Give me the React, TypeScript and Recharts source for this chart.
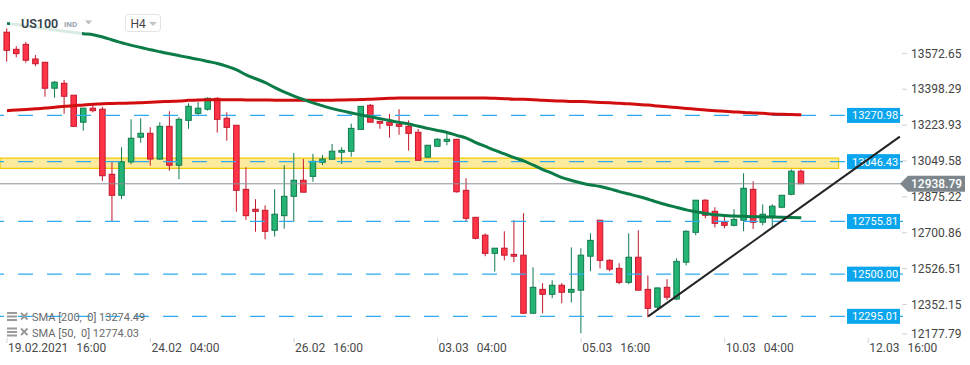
import { ComposedChart, Bar, Line, XAxis, YAxis, ReferenceLine, ReferenceArea } from "recharts";

// H4 candles, 19.02.2021 16:00 .. 11.03.2021
const OPEN = [
  13675, 13592, 13616, 13545, 13529, 13403, 13427, 13369, 13238, 13306,
  13301, 12985, 12883, 13045, 13165, 13184, 13059, 13218, 13029, 13247,
  13281, 13301, 13354, 13257, 13223, 12912, 12815, 12810, 12713, 12784,
  12878, 12956, 12975, 13043, 13058, 13092, 13097, 13203, 13320, 13242,
  13238, 13228, 13218, 13189, 13068, 13121, 13145, 13155, 12907, 12776,
  12689, 12601, 12626, 12596, 12592, 12310, 12426, 12402, 12446, 12412,
  12422, 12587, 12762, 12567, 12528, 12460, 12582, 12426, 12340, 12436,
  12379, 12558, 12703, 12859, 12805, 12752, 12737, 12762, 12912, 12752,
  12781, 12825, 12888, 13000,
];
const HIGH = [
  13694, 13607, 13628, 13564, 13529, 13438, 13443, 13370, 13306, 13322,
  13313, 13050, 13116, 13252, 13257, 13213, 13238, 13291, 13262, 13330,
  13336, 13359, 13359, 13286, 13223, 13019, 12864, 12834, 12912, 13029,
  13088, 13059, 13084, 13079, 13132, 13116, 13231, 13315, 13326, 13242,
  13278, 13301, 13247, 13205, 13126, 13160, 13184, 13155, 12966, 12776,
  12698, 12626, 12708, 12762, 12796, 12533, 12456, 12470, 12456, 12630,
  12626, 12698, 12762, 12572, 12553, 12698, 12713, 12494, 12436, 12475,
  12577, 12713, 12859, 12864, 12825, 12791, 12815, 12990, 12951, 12839,
  12839, 12883, 13009, 13009,
];
const LOW = [
  13532, 13553, 13527, 13510, 13362, 13357, 13279, 13215, 13197, 13286,
  12952, 12758, 12864, 13034, 13138, 13027, 13054, 13002, 12961, 13206,
  13273, 13294, 13187, 13148, 12803, 12763, 12706, 12669, 12682, 12721,
  12755, 12898, 12949, 13030, 13058, 13035, 13070, 13203, 13238, 13206,
  13163, 13177, 13100, 13053, 13068, 13121, 13126, 12896, 12757, 12669,
  12587, 12512, 12567, 12558, 12310, 12310, 12310, 12383, 12358, 12363,
  12213, 12514, 12528, 12514, 12451, 12451, 12422, 12290, 12329, 12374,
  12374, 12543, 12689, 12771, 12727, 12723, 12732, 12708, 12719, 12737,
  12729, 12820, 12883, 12939,
];
const CLOSE = [
  13587, 13571, 13539, 13522, 13403, 13432, 13364, 13218, 13306, 13294,
  12978, 12883, 13046, 13160, 13184, 13059, 13218, 13029, 13252, 13315,
  13306, 13354, 13252, 13213, 12907, 12784, 12805, 12708, 12791, 12878,
  12956, 12898, 13048, 13059, 13097, 13101, 13208, 13315, 13238, 13233,
  13223, 13218, 13184, 13053, 13126, 13155, 13155, 12900, 12771, 12674,
  12601, 12626, 12592, 12587, 12310, 12436, 12402, 12446, 12412, 12426,
  12592, 12664, 12567, 12524, 12460, 12582, 12422, 12334, 12433, 12388,
  12562, 12708, 12859, 12786, 12747, 12737, 12766, 12917, 12752, 12791,
  12830, 12883, 13000, 12939,
];
const SMA200 = [
  13294, 13297, 13300, 13303, 13307, 13310, 13315, 13318, 13322, 13325,
  13328, 13329, 13330, 13331, 13333, 13335, 13337, 13339, 13341, 13344,
  13346, 13347, 13347, 13347, 13347, 13346, 13346, 13346, 13345, 13345,
  13344, 13344, 13344, 13344, 13345, 13346, 13347, 13348, 13350, 13352,
  13354, 13356, 13356, 13356, 13356, 13356, 13356, 13356, 13356, 13356,
  13356, 13354, 13352, 13350, 13349, 13347, 13344, 13342, 13341, 13339,
  13338, 13336, 13334, 13332, 13330, 13327, 13324, 13321, 13317, 13313,
  13309, 13305, 13301, 13297, 13294, 13291, 13288, 13285, 13283, 13281,
  13278, 13276, 13275, 13274,
];
const SMA50 = [
  13718, 13712, 13705, 13699, 13693, 13686, 13680, 13674, 13668, 13663,
  13652, 13637, 13624, 13611, 13601, 13590, 13580, 13570, 13561, 13552,
  13543, 13533, 13523, 13509, 13492, 13468, 13449, 13430, 13406, 13384,
  13365, 13348, 13332, 13317, 13304, 13293, 13283, 13273, 13264, 13255,
  13246, 13237, 13229, 13218, 13208, 13198, 13188, 13174, 13161, 13139,
  13120, 13101, 13084, 13066, 13050, 13029, 13008, 12989, 12969, 12955,
  12943, 12933, 12926, 12914, 12901, 12889, 12877, 12864, 12849, 12836,
  12824, 12812, 12803, 12795, 12788, 12785, 12782, 12781, 12779, 12778,
  12777, 12776, 12775, 12774,
];

const LEVELS = [13270.98, 13046.43, 12755.81, 12500.0, 12295.01];
const ZONE = [13014, 13063];
const LAST_PRICE = 12938.79;
const TREND = [
  { x: 67, y: 12295 },
  { x: 93.3, y: 13168 },
];

const Y_TICKS = [13572.65, 13398.29, 13223.93, 13049.58, 12875.22, 12700.86, 12526.51, 12352.15, 12177.79];
const X_TICKS = [0, 15, 30, 45, 60, 75, 90];
const X_DATES = ["19.02.2021", "24.02", "26.02", "03.03", "05.03", "10.03", "12.03"];
const X_TIMES = ["16:00", "04:00", "16:00", "04:00", "16:00", "04:00", "16:00"];
const SMA_LABELS = ["SMA [200,  0] 13274.49", "SMA [50,  0] 12774.03"];

const data = OPEN.map((o, i) => ({
  i,
  open: o,
  high: HIGH[i],
  low: LOW[i],
  close: CLOSE[i],
  sma200: SMA200[i],
  sma50: SMA50[i],
}));

const BLUE = "#2fabef";

function Candle(props: any) {
  const { x, y, width, height, payload } = props;
  if (!payload) return null;
  const { open, close, high, low } = payload;
  const top = Math.min(y, y + height);
  const h = Math.abs(height);
  const k = h / (high - low || 1);
  const cx = x + width / 2;
  const up = close >= open;
  const bTop = top + (high - Math.max(open, close)) * k;
  const bH = Math.max(1.5, Math.abs(open - close) * k);
  const fill = up ? "#24b575" : "#ff3447";
  const stroke = up ? "#107a4c" : "#c2172c";
  return (
    <g>
      <line x1={cx} x2={cx} y1={top} y2={top + h} stroke={stroke} strokeWidth={1} />
      <rect x={cx - 2.75} y={bTop} width={5.5} height={bH} fill={fill} stroke={stroke} strokeWidth={1} />
    </g>
  );
}

function XTick(props: any) {
  const { x, index } = props;
  return (
    <g>
      <line x1={x} x2={x} y1={338} y2={343} stroke="#d6d6d6" />
      <text x={x + 1} y={351.5} fontSize={12} fill="#4a4a4a">
        <tspan>{X_DATES[index]}</tspan>
        <tspan dx={8}>{X_TIMES[index]}</tspan>
      </text>
    </g>
  );
}

function YTick(props: any) {
  const { y, payload } = props;
  const ty = Math.min(y, 334);
  return (
    <g>
      <line x1={902} x2={907} y1={ty} y2={ty} stroke="#d0d0d0" />
      <text x={911} y={ty + 4.3} fontSize={12} fill="#444">
        {payload.value.toFixed(2)}
      </text>
    </g>
  );
}

const levelTag = (value: number) => (props: any) => {
  const vb = props.viewBox;
  if (!vb) return null;
  const right = vb.x + vb.width;
  return (
    <g>
      <rect x={right - 56} y={vb.y - 7.5} width={53} height={15} fill="#0aa5ec" />
      <text x={right - 51} y={vb.y + 4} fontSize={11} fill="#fff">
        {value.toFixed(2)}
      </text>
    </g>
  );
};

const priceFlag = (props: any) => {
  const vb = props.viewBox;
  if (!vb) return null;
  const r = vb.x + vb.width;
  const y = vb.y;
  return (
    <g>
      <polygon
        points={`${r - 3},${y} ${r + 5},${y - 8} ${r + 62},${y - 8} ${r + 62},${y + 8} ${r + 5},${y + 8}`}
        fill="#7c868c"
      />
      <text x={r + 8} y={y + 4.5} fontSize={12} fontWeight={500} fill="#fff">
        {LAST_PRICE.toFixed(2)}
      </text>
    </g>
  );
};

export default function App() {
  return (
    <div style={{ position: "absolute", left: 0, top: 0, width: 970, height: 365, fontFamily: "Roboto", background: "#fff" }}>
      <ComposedChart width={970} height={365} data={data} margin={{ top: 0, right: 0, bottom: 0, left: 0 }}>
        <XAxis
          dataKey="i"
          type="number"
          domain={[-0.73, 93.63]}
          ticks={X_TICKS}
          interval={0}
          tick={<XTick />}
          axisLine={false}
          tickLine={false}
          height={22}
          allowDataOverflow
        />
        <YAxis
          orientation="right"
          type="number"
          domain={[12165.5, 13831.5]}
          ticks={Y_TICKS}
          interval={0}
          tick={<YTick />}
          axisLine={false}
          tickLine={false}
          width={67}
          allowDataOverflow
        />
        {LEVELS.map((lv) => (
          <ReferenceLine
            key={lv}
            y={lv}
            stroke={BLUE}
            strokeWidth={1.2}
            strokeDasharray="15 14"
            label={levelTag(lv)}
          />
        ))}
        <ReferenceLine y={LAST_PRICE} stroke="#8b9298" strokeWidth={1} label={priceFlag} />
        <Bar
          dataKey={(d: any) => [d.low, d.high]}
          barSize={7}
          shape={(p: any) => <Candle {...p} />}
          isAnimationActive={false}
        />
        <ReferenceArea
          x1={-0.73}
          x2={86.9}
          y1={ZONE[0]}
          y2={ZONE[1]}
          fill="#f8d22a"
          fillOpacity={0.45}
          stroke="#f4c800"
          strokeWidth={1.2}
          ifOverflow="visible"
        />
        <Line
          type="monotone"
          dataKey="sma200"
          stroke="#d20d0d"
          strokeWidth={3}
          strokeLinecap="butt"
          dot={false}
          activeDot={false}
          isAnimationActive={false}
        />
        <Line
          type="monotone"
          dataKey="sma50"
          stroke="#0b7c47"
          strokeWidth={3}
          strokeLinecap="butt"
          dot={false}
          activeDot={false}
          isAnimationActive={false}
        />
        <ReferenceLine segment={TREND} stroke="#232323" strokeWidth={2} ifOverflow="visible" />
      </ComposedChart>

      <svg
        width={970}
        height={365}
        style={{ position: "absolute", left: 0, top: 0, pointerEvents: "none", fontFamily: "Roboto" }}
      >
        <rect x={10} y={14} width={72} height={22} fill="#fff" opacity={0.85} />
        <text x={21} y={27.5} fontSize={12.5} fontWeight={600} fill="#36404a">US100</text>
        <text x={64} y={27.3} fontSize={8} fontWeight={700} fill="#9aa4ad">IND</text>
        <polygon points="85,20.5 92,20.5 88.5,24.5" fill="#b8bec4" />
        <rect x={125.5} y={14.5} width={35} height={17} rx={3} fill="#fff" stroke="#e3e3e3" />
        <text x={130.5} y={27.5} fontSize={12} fill="#444">H4</text>
        <polygon points="149,22 157,22 153,26" fill="#c0c4c8" />

        {SMA_LABELS.map((label, r) => {
          const cy = 317 + r * 15.5;
          return (
            <g key={label}>
              <rect x={7} y={cy - 5} width={10} height={2} fill="#9a9a9a" />
              <rect x={7} y={cy - 1.5} width={10} height={2} fill="#9a9a9a" />
              <rect x={7} y={cy + 2} width={10} height={2} fill="#9a9a9a" />
              <line x1={21} y1={cy - 4} x2={27.5} y2={cy + 2.5} stroke="#9a9a9a" strokeWidth={2} />
              <line x1={27.5} y1={cy - 4} x2={21} y2={cy + 2.5} stroke="#9a9a9a" strokeWidth={2} />
              <text x={32} y={cy + 4} fontSize={11} fill="#6a6a6a" xmlSpace="preserve" style={{ whiteSpace: "pre" }}>
                {label}
              </text>
            </g>
          );
        })}
      </svg>
    </div>
  );
}
